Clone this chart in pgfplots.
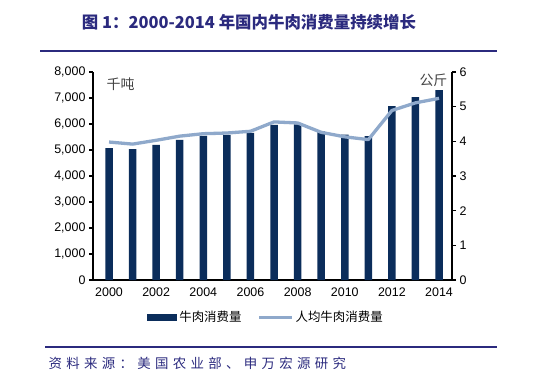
\documentclass[border=0pt]{standalone}
\usepackage{pgfplots}
\pgfplotsset{compat=1.18}
\usepackage{fontspec}
\setmainfont{Liberation Sans}
\newfontfamily\cjk{Noto Sans CJK SC}
\definecolor{barc}{HTML}{0B2D5B}
\definecolor{linec}{HTML}{8FA9CB}
\definecolor{navy}{HTML}{2B2A7E}
\definecolor{unitc}{HTML}{444444}
\begin{document}
\begin{tikzpicture}[x=1bp,y=1bp]
\path[use as bounding box] (0,0) rectangle (549,389);
\node[font=\cjk\bfseries\fontsize{16.5}{16.5}\selectfont, text=navy] at (249,367) {图 1：2000-2014 年国内牛肉消费量持续增长};
\draw[navy, line width=2bp] (40,338) -- (497,338);
\draw[navy, line width=2bp] (45,42) -- (497,42);
\node[anchor=west, font=\cjk\addfontfeature{LetterSpace=32}\fontsize{13.5}{13.5}\selectfont, text=navy] at (45,26) {资料来源：美国农业部、申万宏源研究};
\begin{axis}[at={(93bp,109bp)}, anchor=south west, width=359bp, height=208bp, scale only axis,
  xmin=-0.68, xmax=14.55, ymin=0, ymax=8000,
  axis x line*=bottom, axis y line*=left,
  axis line style={line width=1.6bp, black, -},
  xtick={0,2,...,14}, xticklabels={2000,2002,2004,2006,2008,2010,2012,2014},
  major x tick style={draw=none},
  ytick={0,1000,...,8000}, tick align=outside, major tick length=4bp,
  major y tick style={line width=1.2bp, black},
  scaled y ticks=false,
  /pgf/number format/assume math mode=true,
  yticklabel style={/pgf/number format/1000 sep={,}},
  tick label style={font=\fontsize{12.5}{12.5}\selectfont},
  legend columns=2,
  legend style={at={(0.482,-0.178)}, anchor=center, draw=none, fill=none,
    font=\cjk\fontsize{12.5}{12.5}\selectfont, /tikz/every even column/.append style={column sep=14bp}},
  ]
\addplot[ybar, bar width=7.5bp, fill=barc, draw=none,
  legend image code/.code={\fill[barc] (0bp,-3.5bp) rectangle (30bp,3.5bp);}]
  coordinates {(0,5070) (1,5030) (2,5200) (3,5390) (4,5545) (5,5585) (6,5660) (7,5970) (8,5990) (9,5720) (10,5590) (11,5530) (12,6690) (13,7035) (14,7305)};
\addlegendentry{牛肉消费量}
\addlegendimage{line legend, linec, line width=3bp, legend image code/.code={\draw[linec, line width=3bp] (0bp,0bp) -- (33bp,0bp);}}
\addlegendentry{人均牛肉消费量}
\node[anchor=north west, font=\cjk\fontsize{14}{14}\selectfont, text=unitc] at (rel axis cs:0.028,0.99) {千吨};
\end{axis}
\begin{axis}[at={(93bp,109bp)}, anchor=south west, width=359bp, height=208bp, scale only axis,
  xmin=-0.68, xmax=14.55, ymin=0, ymax=6,
  axis x line=none, axis y line*=right,
  axis line style={line width=1.6bp, black, -},
  ytick={0,1,...,6}, tick align=outside, major tick length=4bp,
  major y tick style={line width=1.2bp, black},
  /pgf/number format/assume math mode=true,
  tick label style={font=\fontsize{12.5}{12.5}\selectfont},
  ]
\addplot[linec, line width=3.3bp, line join=round] coordinates {(0,3.98) (1,3.92) (2,4.03) (3,4.15) (4,4.22) (5,4.24) (6,4.29) (7,4.56) (8,4.53) (9,4.26) (10,4.13) (11,4.05) (12,4.89) (13,5.11) (14,5.24)};
\node[anchor=north east, font=\cjk\fontsize{14}{14}\selectfont, text=unitc] at (rel axis cs:0.997,1.01) {公斤};
\end{axis}
\end{tikzpicture}
\end{document}
